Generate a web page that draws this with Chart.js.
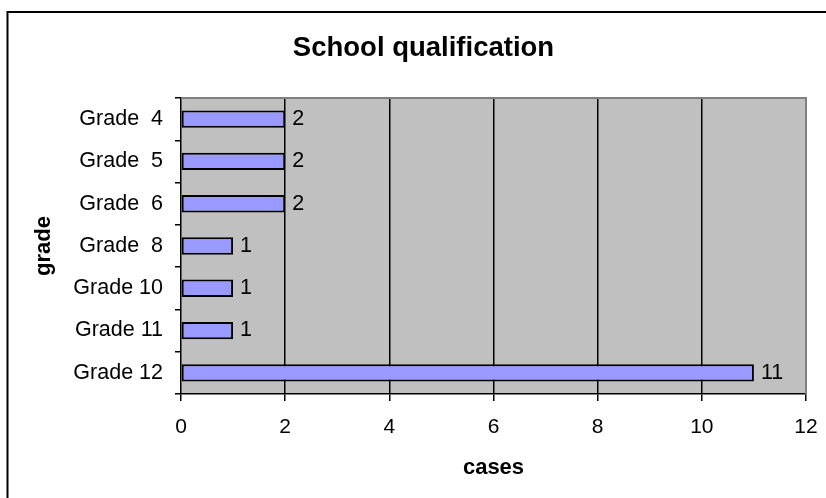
<!DOCTYPE html>
<html>
<head>
<meta charset="utf-8">
<script src="https://cdn.jsdelivr.net/npm/chart.js@4.4.1/dist/chart.umd.min.js"></script>
<style>
  html, body { margin: 0; padding: 0; background: #ffffff; }
  #wrap { width: 826px; height: 498px; }
</style>
</head>
<body>
<div id="wrap"><canvas id="chart" width="826" height="498"></canvas></div>
<script>
// Number of cases per school grade
const categories = ['Grade  4', 'Grade  5', 'Grade  6', 'Grade  8', 'Grade 10', 'Grade 11', 'Grade 12'];
const cases = [2, 2, 2, 1, 1, 1, 11];
const caseTicks = [0, 2, 4, 6, 8, 10, 12];

const FONT = '"Liberation Sans", Arial, sans-serif';

// Page background, grey plot area and the plot-area / outer frame lines
const framePlugin = {
  id: 'frame',
  beforeDraw(chart) {
    const { ctx, chartArea: a } = chart;
    ctx.save();
    ctx.fillStyle = '#ffffff';
    ctx.fillRect(0, 0, chart.width, chart.height);
    ctx.fillStyle = '#c0c0c0';
    ctx.fillRect(a.left, a.top, a.right - a.left, a.bottom - a.top);
    ctx.restore();
  },
  afterDraw(chart) {
    const { ctx, chartArea: a } = chart;
    ctx.save();
    ctx.strokeStyle = '#808080';
    ctx.lineWidth = 2;
    ctx.beginPath();
    ctx.moveTo(a.left, a.top);
    ctx.lineTo(a.right, a.top);
    ctx.lineTo(a.right, a.bottom);
    ctx.stroke();
    ctx.strokeStyle = '#000000';
    ctx.lineWidth = 2;
    ctx.beginPath();
    ctx.moveTo(7.5, chart.height + 2);
    ctx.lineTo(7.5, 12);
    ctx.lineTo(chart.width + 2, 12);
    ctx.stroke();
    ctx.restore();
  }
};

// Value labels just past the end of each bar
const valueLabels = {
  id: 'valueLabels',
  afterDatasetsDraw(chart) {
    const { ctx } = chart;
    const meta = chart.getDatasetMeta(0);
    ctx.save();
    ctx.font = '21.5px ' + FONT;
    ctx.fillStyle = '#000000';
    ctx.textAlign = 'left';
    ctx.textBaseline = 'middle';
    meta.data.forEach((bar, i) => {
      ctx.fillText(String(cases[i]), bar.x + 7, bar.y);
    });
    ctx.restore();
  }
};

new Chart(document.getElementById('chart'), {
  type: 'bar',
  data: {
    labels: categories,
    datasets: [{
      data: cases,
      backgroundColor: '#9999ff',
      borderColor: '#000000',
      borderWidth: 2,
      borderSkipped: false,
      categoryPercentage: 0.41,
      barPercentage: 1.0
    }]
  },
  options: {
    indexAxis: 'y',
    responsive: false,
    animation: false,
    devicePixelRatio: 1,
    layout: { padding: { left: 21, right: 0, top: 0, bottom: 0 } },
    plugins: {
      legend: { display: false },
      tooltip: { enabled: false },
      title: {
        display: true,
        text: 'School qualification',
        color: '#000000',
        font: { family: FONT, size: 27.5, weight: 'bold' },
        padding: { top: 31.5, bottom: 33.5 }
      }
    },
    scales: {
      x: {
        type: 'linear',
        min: caseTicks[0],
        max: caseTicks[caseTicks.length - 1],
        afterBuildTicks(scale) {
          scale.ticks = caseTicks.map(v => ({ value: v }));
        },
        afterFit(scale) {
          scale.height = 104;
          scale.paddingLeft = 0;
          scale.paddingRight = 20;
        },
        border: { display: true, color: '#000000', width: 1.5 },
        grid: {
          drawOnChartArea: true,
          drawTicks: true,
          tickLength: 7,
          tickColor: '#000000',
          tickWidth: 1.5,
          lineWidth: 1.5,
          color: ctx => {
            const v = ctx.tick ? ctx.tick.value : null;
            if (v === caseTicks[0]) return 'rgba(0,0,0,0)';
            if (v === caseTicks[caseTicks.length - 1]) return '#808080';
            return '#000000';
          }
        },
        ticks: {
          color: '#000000',
          padding: 14,
          maxRotation: 0,
          font: { family: FONT, size: 21 }
        },
        title: {
          display: true,
          text: 'cases',
          color: '#000000',
          font: { family: FONT, size: 22, weight: 'bold' },
          padding: { top: 0, bottom: 17 }
        }
      },
      y: {
        type: 'category',
        afterFit(scale) {
          scale.width = 160;
          scale.paddingTop = 0;
          scale.paddingBottom = 0;
        },
        border: { display: true, color: '#000000', width: 1.5 },
        grid: {
          offset: true,
          drawOnChartArea: false,
          drawTicks: true,
          tickLength: 6,
          color: '#000000',
          lineWidth: 1.5
        },
        ticks: {
          color: '#000000',
          padding: 12,
          font: { family: FONT, size: 21.5 }
        },
        title: {
          display: true,
          text: 'grade',
          color: '#000000',
          font: { family: FONT, size: 22, weight: 'bold' },
          padding: { top: 10, bottom: 0 }
        }
      }
    }
  },
  plugins: [framePlugin, valueLabels]
});
</script>
</body>
</html>
